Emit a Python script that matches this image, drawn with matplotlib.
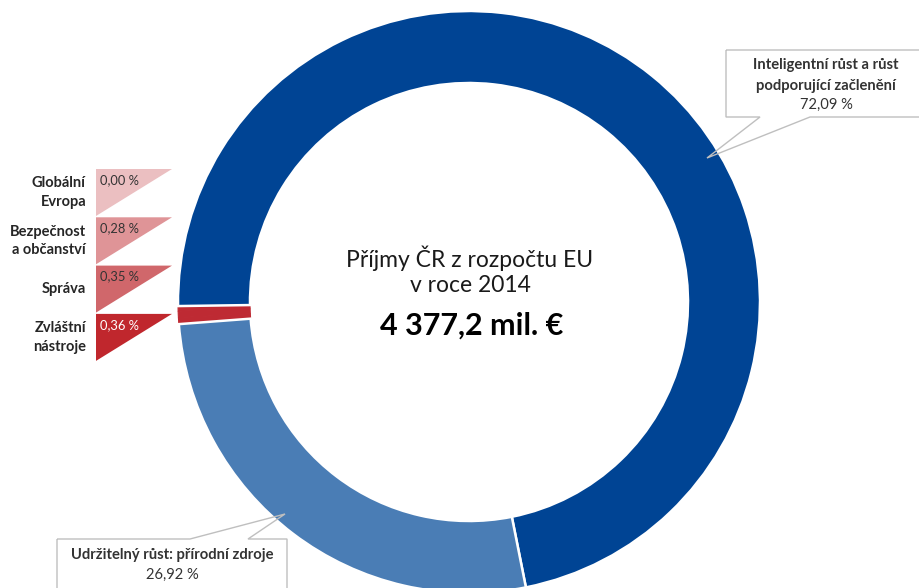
import matplotlib.pyplot as plt
from matplotlib.patches import Polygon

plt.rcParams['font.family'] = ['Lato', 'DejaVu Sans']

# data
kategorie = ["Inteligentní růst a růst\npodporující začlenění",
             "Udržitelný růst: přírodní zdroje",
             "Zvláštní\nnástroje", "Správa",
             "Bezpečnost\na občanství", "Globální\nEvropa"]
podily = [72.09, 26.92, 0.36, 0.35, 0.28, 0.00]
popisky = ["72,09 %", "26,92 %", "0,36 %", "0,35 %", "0,28 %", "0,00 %"]
barvy_kruh = ["#004494", "#4A7DB5", "#BE2A33", "#BE2A33", "#BE2A33", "#BE2A33"]
barvy_legenda = ["#EBBFC1", "#DF9497", "#D0676B", "#C0272D"]

W, H = 919, 588
def Y(y):
    return H - y

fig = plt.figure(figsize=(W / 100, H / 100), dpi=100)
ax = fig.add_axes([0, 0, 1, 1])

wedges, _ = ax.pie(podily, colors=barvy_kruh, startangle=180.8, counterclock=False,
                   radius=291, center=(469, Y(302)),
                   wedgeprops=dict(width=72, edgecolor="white", linewidth=1.8))
for i, w in enumerate(wedges):
    if i < 2:
        w.set_zorder(3)
    else:
        w.set_edgecolor(barvy_kruh[i])
        w.set_linewidth(0.8)
        w.set_zorder(2)

ax.set_xlim(0, W)
ax.set_ylim(0, H)
ax.axis("off")

# text uprostred
ax.text(470, Y(258), "Příjmy ČR z rozpočtu EU", ha="center", va="center",
        fontsize=16.5, color="#1a1a1a")
ax.text(470, Y(285), "v roce 2014", ha="center", va="center",
        fontsize=16.5, color="#1a1a1a")
ax.text(472, Y(326), "4 377,2 mil. €", ha="center", va="center",
        fontsize=22, fontweight="bold", color="#000000")

# legenda malych polozek (trojuhelniky)
male = [5, 4, 3, 2]  # Globální, Bezpečnost, Správa, Zvláštní
for j, idx in enumerate(male):
    top = 169 + j * 48.3
    bot = top + 47
    tri = Polygon([(96, Y(top)), (172, Y(top)), (96, Y(bot))], closed=True,
                  facecolor=barvy_legenda[j], edgecolor="none")
    ax.add_patch(tri)
    ax.text(86, Y((top + bot) / 2), kategorie[idx], ha="right", va="center",
            fontsize=10.5, fontweight="bold", color="#262626", linespacing=1.4)
    ax.text(100, Y(top + 11), popisky[idx], ha="left", va="center", fontsize=9.3,
            color="white" if idx == 2 else "#333333")

# popisky s odkazem
box1 = [(726, Y(50)), (930, Y(50)), (930, Y(117)), (810, Y(117)), (707, Y(158)),
        (760, Y(117)), (726, Y(117))]
ax.add_patch(Polygon(box1, closed=True, facecolor="none", edgecolor="#BFBFBF",
                     linewidth=1, zorder=5))
ax.text(826, Y(65), "Inteligentní růst a růst", ha="center", va="center",
        fontsize=10.6, fontweight="bold", color="#333333", zorder=6)
ax.text(826, Y(86), "podporující začlenění", ha="center", va="center",
        fontsize=10.6, fontweight="bold", color="#333333", zorder=6)
ax.text(826, Y(105), popisky[0], ha="center", va="center",
        fontsize=10.6, color="#333333", zorder=6)

box2 = [(57, Y(539)), (190, Y(539)), (285, Y(514)), (248, Y(539)), (287, Y(539)),
        (287, Y(600)), (57, Y(600))]
ax.add_patch(Polygon(box2, closed=True, facecolor="none", edgecolor="#BFBFBF",
                     linewidth=1, zorder=5))
ax.text(172, Y(555), kategorie[1], ha="center", va="center",
        fontsize=10.6, fontweight="bold", color="#333333", zorder=6)
ax.text(172, Y(575), popisky[1], ha="center", va="center",
        fontsize=10.6, color="#333333", zorder=6)

fig.savefig("out.png", dpi=100)
